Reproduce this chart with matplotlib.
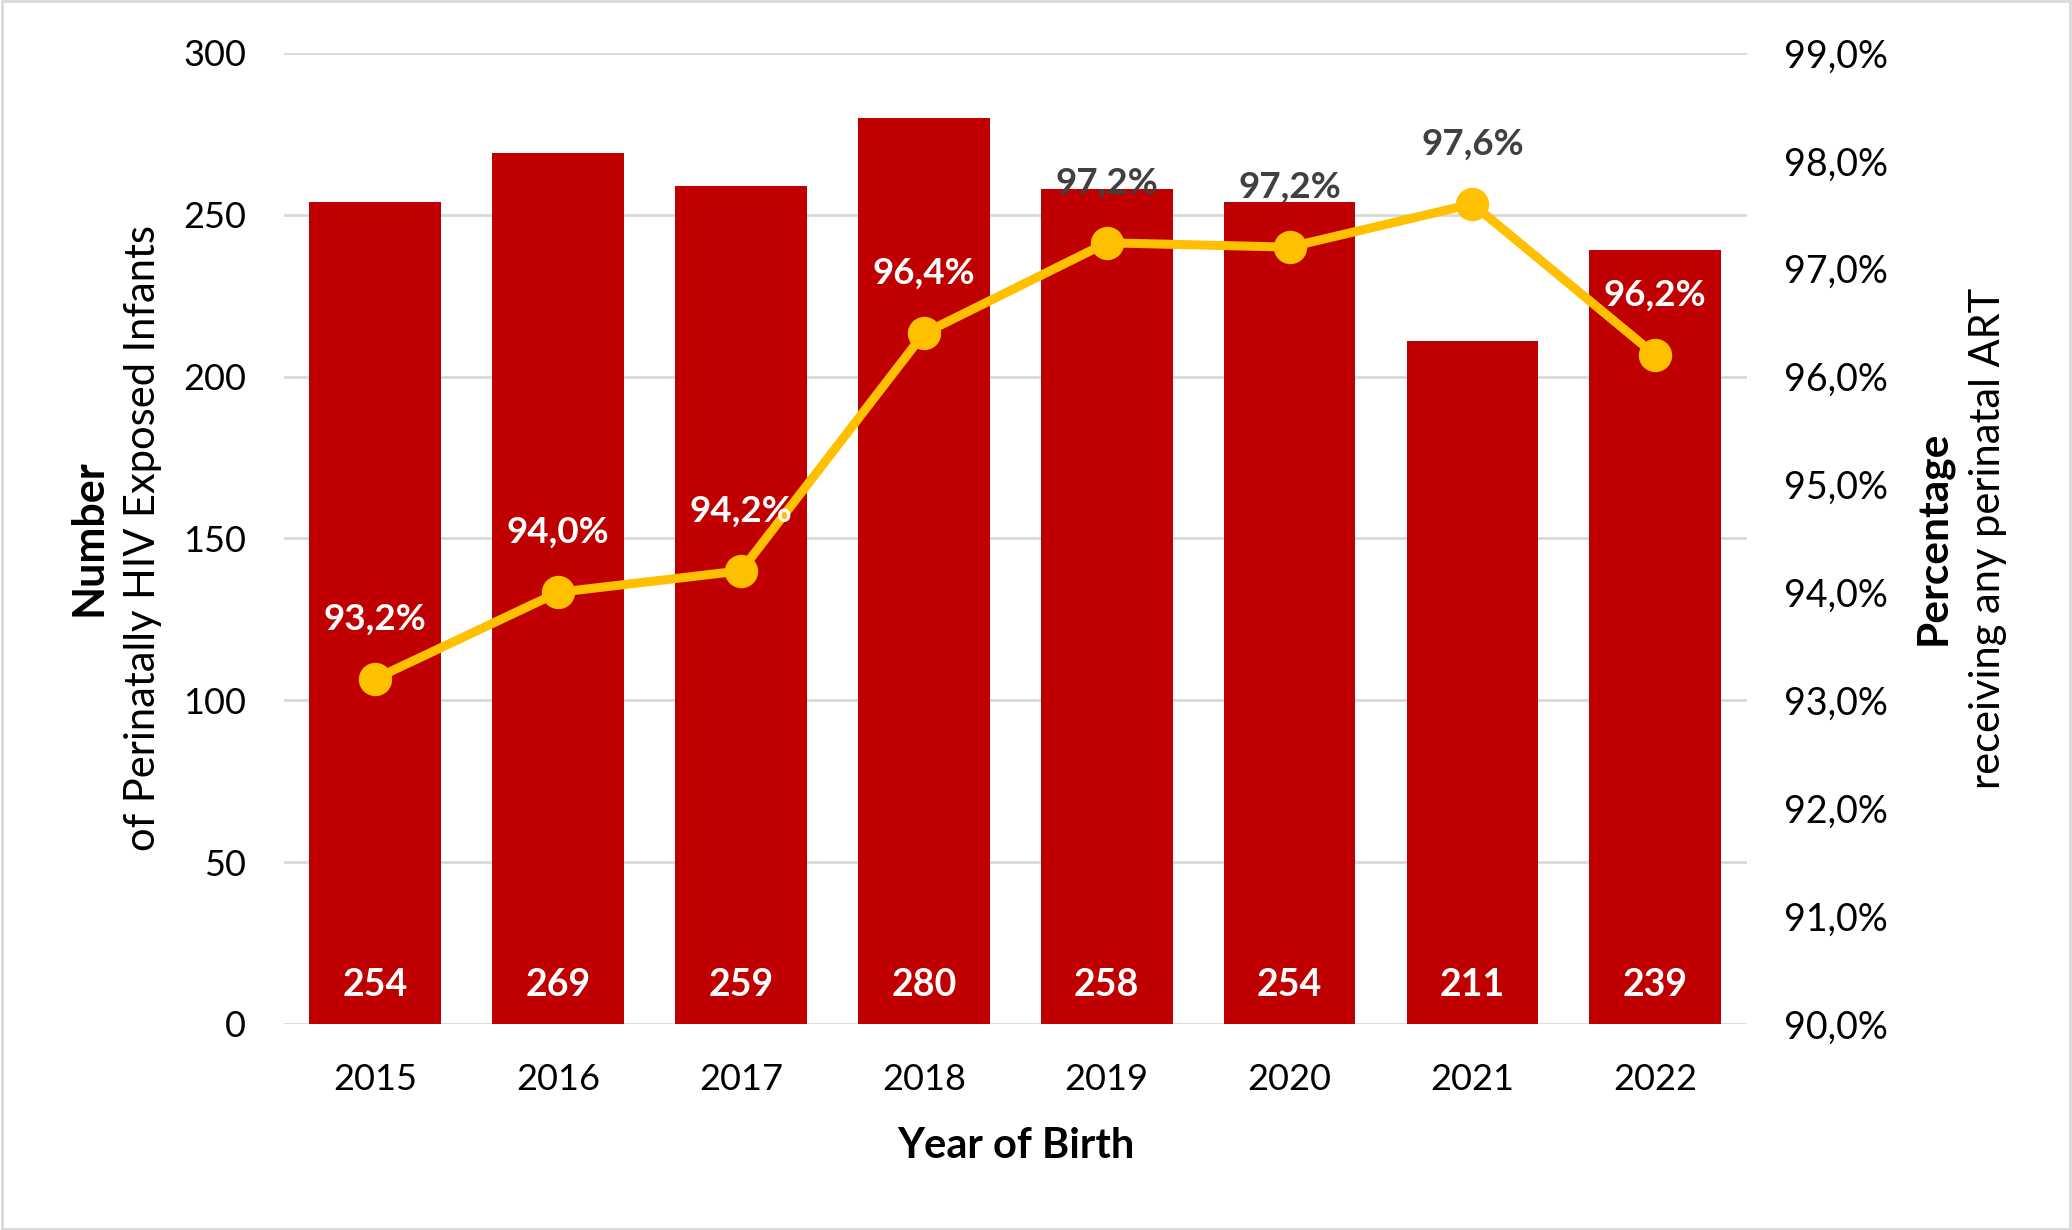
import matplotlib.pyplot as plt
from matplotlib.patches import Rectangle

plt.rcParams['font.family'] = ['Lato', 'DejaVu Sans']

years = ['2015', '2016', '2017', '2018', '2019', '2020', '2021', '2022']
infants = [254, 269, 259, 280, 258, 254, 211, 239]
pct_art = [93.2, 94.0, 94.2, 96.4, 97.24, 97.2, 97.6, 96.2]

bar_red = '#C00000'
line_gold = '#FFC000'
grid_gray = '#D9D9D9'
dark_txt = '#404040'

fig = plt.figure(figsize=(20.72, 12.30), dpi=100)
ax = fig.add_axes([0.137, 0.1675, 0.706, 0.7895])
x = range(len(years))

bars = ax.bar(x, infants, width=0.72, color=bar_red, zorder=2)
ax.set_ylim(0, 300)
ax.set_yticks(range(0, 301, 50))
ax.set_xlim(-0.5, len(years) - 0.5)
ax.set_xticks(list(x))
ax.set_xticklabels(years)
ax.grid(axis='y', color=grid_gray, linewidth=2, zorder=0)
ax.set_axisbelow(True)
for s in ax.spines.values():
    s.set_visible(False)
ax.tick_params(axis='both', length=0, labelsize=26, colors='black')
ax.tick_params(axis='y', pad=27)
ax.tick_params(axis='x', pad=28)

# bar counts at the bottom of each bar
for i, v in enumerate(infants):
    ax.text(i, 12, str(v), ha='center', va='center', color='white',
            fontsize=27, fontweight='bold')

ax2 = ax.twinx()
ax2.plot(list(x), pct_art, color=line_gold, linewidth=6.5, marker='o',
         markersize=23, zorder=3)
ax2.set_ylim(90, 99)
ax2.set_yticks(range(90, 100))
ax2.set_yticklabels([f'{t},0%' for t in range(90, 100)])
for s in ax2.spines.values():
    s.set_visible(False)
ax2.tick_params(axis='y', length=0, labelsize=27, pad=27)

# percentage labels; white where they sit on a bar
label_colors = ['white', 'white', 'white', 'white', dark_txt, dark_txt, dark_txt, 'white']
for i, v in enumerate(pct_art):
    txt = f'{v:.1f}'.replace('.', ',') + '%'
    ax2.annotate(txt, (i, v), xytext=(0, 43), textcoords='offset points',
                 ha='center', va='center', fontsize=26.5, fontweight='bold',
                 color=label_colors[i])

fig.text(0.0427, 0.5626, 'Number', rotation=90, ha='center', va='center',
         fontsize=31, fontweight='bold')
fig.text(0.0689, 0.5626, 'of Perinatally HIV Exposed Infants', rotation=90,
         ha='center', va='center', fontsize=30)
fig.text(0.933, 0.5626, 'Percentage', rotation=90, ha='center', va='center',
         fontsize=30.5, fontweight='bold')
fig.text(0.9596, 0.5626, 'receiving any perinatal ART', rotation=90,
         ha='center', va='center', fontsize=30)
fig.text(0.4905, 0.068, 'Year of Birth', ha='center', va='center',
         fontsize=30, fontweight='bold')

fig.patches.append(Rectangle((0.001, 0.001), 0.998, 0.998, transform=fig.transFigure,
                             fill=False, edgecolor=grid_gray, linewidth=2))

fig.savefig('out.png', dpi=100)
